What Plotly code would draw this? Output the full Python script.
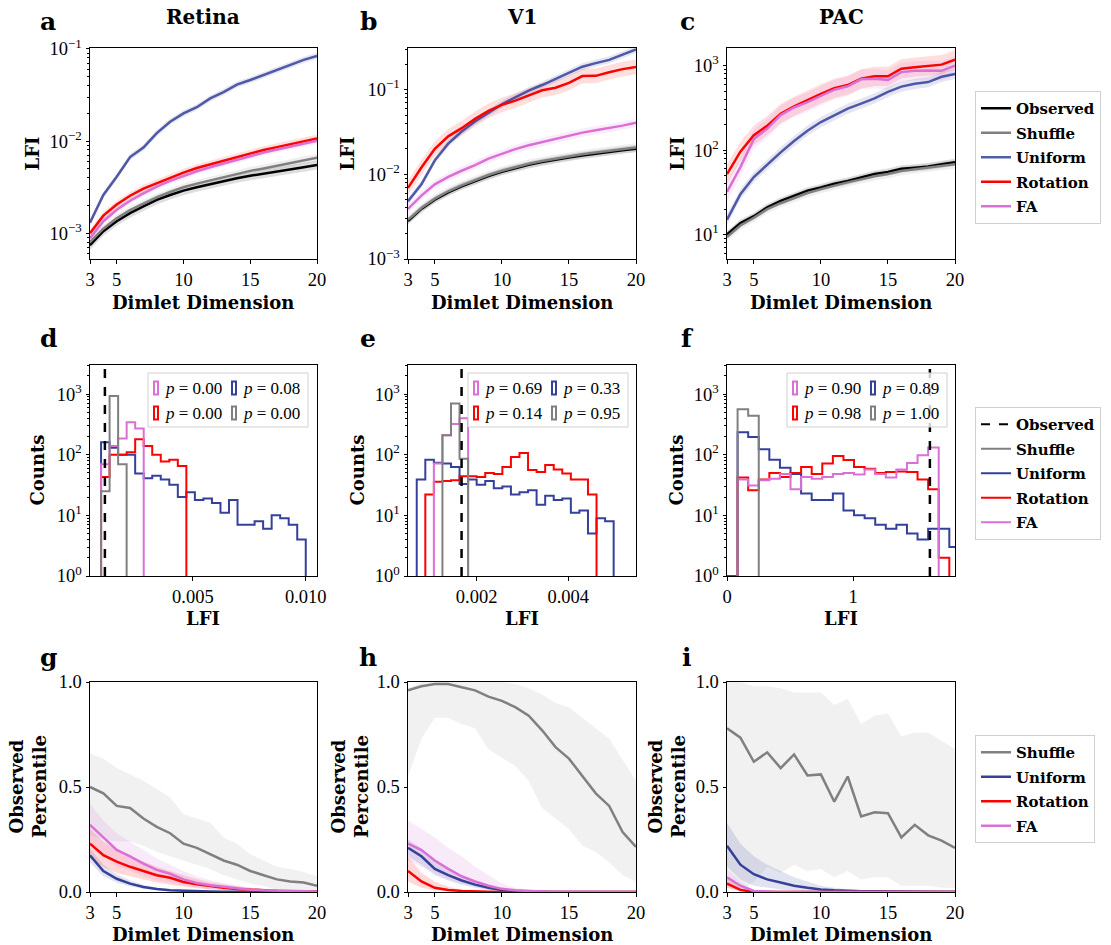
import plotly.graph_objects as go

W, H = 1111, 945


def px(x):
    return x / W


def py(y):
    return 1 - y / H


# ------------------------------------------------------------------ data
DIMS = list(range(3, 21))
SERIES = ["Observed", "Shuffle", "Uniform", "Rotation", "FA"]
COLORS = {"Observed": "#000000", "Shuffle": "#808080", "Uniform": "#35409a",
          "Rotation": "#ff0000", "FA": "#da70d6"}
BAND_RGB = {"Observed": "0,0,0", "Shuffle": "128,128,128", "Uniform": "53,64,154",
            "Rotation": "255,0,0", "FA": "218,112,214"}

# Row 1: LFI vs dimlet dimension (means)
ret_obs = [7.4e-4, 1.05e-3, 1.35e-3, 1.65e-3, 1.95e-3, 2.3e-3, 2.6e-3, 2.9e-3, 3.15e-3,
           3.4e-3, 3.7e-3, 3.95e-3, 4.2e-3, 4.45e-3, 4.7e-3, 4.95e-3, 5.2e-3, 5.5e-3]
ret_shuf = [8.0e-4, 1.12e-3, 1.45e-3, 1.78e-3, 2.1e-3, 2.45e-3, 2.8e-3, 3.15e-3, 3.45e-3,
            3.75e-3, 4.05e-3, 4.4e-3, 4.75e-3, 5.05e-3, 5.4e-3, 5.75e-3, 6.1e-3, 6.6e-3]
ret_unif = [1.3e-3, 2.6e-3, 4.1e-3, 6.7e-3, 8.5e-3, 0.0122, 0.0162, 0.020, 0.0233,
            0.029, 0.034, 0.041, 0.046, 0.052, 0.059, 0.067, 0.076, 0.084]
ret_rot = [1.0e-3, 1.55e-3, 2.05e-3, 2.55e-3, 3.05e-3, 3.5e-3, 4.0e-3, 4.55e-3, 5.1e-3,
           5.6e-3, 6.1e-3, 6.7e-3, 7.4e-3, 8.0e-3, 8.6e-3, 9.3e-3, 9.9e-3, 0.0107]
ret_fa = [8.8e-4, 1.35e-3, 1.8e-3, 2.25e-3, 2.7e-3, 3.2e-3, 3.7e-3, 4.2e-3, 4.7e-3,
          5.2e-3, 5.7e-3, 6.3e-3, 6.9e-3, 7.5e-3, 8.1e-3, 8.7e-3, 9.4e-3, 0.0101]

v1_obs = [2.8e-3, 3.9e-3, 5.0e-3, 6.1e-3, 7.2e-3, 8.3e-3, 9.5e-3, 0.0107, 0.0118,
          0.0129, 0.0139, 0.0149, 0.0158, 0.0167, 0.0176, 0.0184, 0.0192, 0.0200]
v1_shuf = [2.9e-3, 4.0e-3, 5.15e-3, 6.3e-3, 7.4e-3, 8.6e-3, 9.8e-3, 0.0110, 0.0122,
           0.0133, 0.0143, 0.0153, 0.0163, 0.0172, 0.0181, 0.0190, 0.0198, 0.0207]
v1_unif = [4.8e-3, 7.6e-3, 0.0146, 0.023, 0.032, 0.042, 0.053, 0.067, 0.081,
           0.097, 0.113, 0.133, 0.16, 0.186, 0.205, 0.224, 0.258, 0.297]
v1_rot = [6.9e-3, 0.012, 0.020, 0.028, 0.035, 0.045, 0.056, 0.066, 0.074,
          0.085, 0.098, 0.105, 0.120, 0.144, 0.145, 0.160, 0.174, 0.185]
v1_fa = [3.9e-3, 5.6e-3, 7.6e-3, 9.3e-3, 0.011, 0.0128, 0.0153, 0.0175, 0.0198,
         0.022, 0.0240, 0.0262, 0.0285, 0.031, 0.033, 0.035, 0.0375, 0.0405]

pac_obs = [10, 13.7, 16.5, 21, 25, 29, 33, 36, 40, 43, 47, 52, 55, 60, 62, 64, 68, 72]
pac_shuf = [9.3, 12.8, 15.8, 20, 23.5, 27, 31, 34.5, 38, 41.5, 45, 49, 52, 56.5, 59.5, 62, 65, 68]
pac_unif = [15, 30, 48, 68, 94, 128, 170, 215, 257, 310, 355, 410, 490, 565, 610, 640, 740, 800]
pac_rot = [52, 96, 150, 195, 270, 330, 390, 465, 540, 590, 700, 750, 750, 920, 960, 1000, 1030, 1180]
pac_fa = [32, 63, 135, 180, 260, 320, 370, 440, 520, 570, 690, 700, 680, 840, 870, 880, 870, 1000]

# multiplicative half-width of the shaded bands (Observed, Shuffle, Uniform, Rotation, FA)
ret_spread = [1.12, 1.10, 1.08, 1.10, 1.08]
v1_spread = [1.10, 1.12, 1.10, 1.22, 1.12]
pac_spread = [1.10, 1.12, 1.15, 1.30, 1.30]

# Row 2: histograms (bin start, bin width, counts per series, observed value)
d_start, d_width = 0.00093, 0.000378
d_unif = [160, 130, 100, 100, 49, 41, 45, 39, 32, 20, 24, 18, 19, 16, 11, 18, 7, 7, 8, 6, 10, 9, 7, 4]
d_rot = [43, 100, 100, 110, 180, 140, 100, 77, 83, 65]
d_fa = [70, 140, 185, 345, 270]
d_shuf = [25, 930, 70]
d_obs = 0.00110

e_start, e_width = 0.000691, 0.000187
e_unif = [39, 83, 74, 72, 63, 33, 39, 32, 37, 28, 30, 22, 24, 26, 15, 21, 18, 19, 11, 12, 5, 9, 8]
e_rot = [22, 36, 37, 38, 44, 44, 43, 50, 48, 63, 92, 107, 56, 52, 68, 57, 49, 39, 39, 22]
e_fa = [72, 210, 320, 400]
e_shuf = [210, 700, 86]
e_obs = 0.00167

f_start, f_width = 0.0, 0.0839
f_unif = [235, 197, 123, 83, 61, 48, 23, 18, 18, 23, 12, 10, 9, 7, 6, 7, 5, 4, 6, 6, 3]
f_rot = [1, 42, 26, 39, 50, 43, 50, 63, 48, 72, 95, 82, 63, 59, 50, 52, 53, 52, 39, 27, 2]
f_fa = [39, 31, 38, 40, 48, 27, 43, 40, 43, 48, 50, 47, 57, 48, 42, 57, 73, 98, 132]
f_shuf = [560, 440]
f_obs = 1.608

d_first = {"Uniform": 0, "Rotation": 0, "FA": 0, "Shuffle": 0}
e_first = {"Uniform": 0, "Rotation": 1, "FA": 2, "Shuffle": 3}
f_first = {"Uniform": 1, "Rotation": 0, "FA": 1, "Shuffle": 1}

p_d = {"FA": "0.00", "Uniform": "0.08", "Rotation": "0.00", "Shuffle": "0.00"}
p_e = {"FA": "0.69", "Uniform": "0.33", "Rotation": "0.14", "Shuffle": "0.95"}
p_f = {"FA": "0.90", "Uniform": "0.89", "Rotation": "0.98", "Shuffle": "1.00"}

# Row 3: observed percentile (mean, low, high)
g_shuf = [0.50, 0.47, 0.41, 0.40, 0.35, 0.31, 0.28, 0.23, 0.21, 0.18, 0.15, 0.13, 0.10, 0.08, 0.06, 0.05, 0.045, 0.03]
g_shuf_lo = [0.27, 0.25, 0.24, 0.24, 0.22, 0.19, 0.17, 0.15, 0.13, 0.11, 0.08, 0.06, 0.04, 0.03, 0.01, 0.0, 0.0, 0.0]
g_shuf_hi = [0.66, 0.635, 0.59, 0.56, 0.53, 0.49, 0.45, 0.37, 0.35, 0.33, 0.26, 0.23, 0.18, 0.15, 0.12, 0.11, 0.095, 0.075]
g_unif = [0.175, 0.10, 0.063, 0.04, 0.024, 0.014, 0.008, 0.005, 0.003, 0.002, 0.001, 0.001, 0, 0, 0, 0, 0, 0]
g_unif_lo = [0.14, 0.075, 0.045, 0.027, 0.015, 0.008, 0.004, 0.002, 0.001, 0, 0, 0, 0, 0, 0, 0, 0, 0]
g_unif_hi = [0.21, 0.13, 0.085, 0.055, 0.035, 0.022, 0.013, 0.008, 0.005, 0.003, 0.002, 0.001, 0.001, 0, 0, 0, 0, 0]
g_rot = [0.23, 0.175, 0.145, 0.12, 0.10, 0.08, 0.068, 0.048, 0.037, 0.027, 0.02, 0.014, 0.01, 0.007, 0.005, 0.004, 0.003, 0.003]
g_rot_lo = [0.16, 0.12, 0.09, 0.075, 0.06, 0.045, 0.035, 0.025, 0.018, 0.012, 0.008, 0.005, 0.003, 0.002, 0.001, 0.001, 0.0, 0.0]
g_rot_hi = [0.30, 0.24, 0.20, 0.17, 0.145, 0.12, 0.10, 0.08, 0.062, 0.047, 0.036, 0.027, 0.02, 0.015, 0.011, 0.009, 0.007, 0.006]
g_fa = [0.32, 0.26, 0.20, 0.17, 0.135, 0.105, 0.087, 0.06, 0.043, 0.032, 0.024, 0.016, 0.011, 0.008, 0.006, 0.004, 0.003, 0.002]
g_fa_lo = [0.22, 0.17, 0.12, 0.10, 0.075, 0.055, 0.045, 0.03, 0.02, 0.013, 0.009, 0.006, 0.004, 0.003, 0.002, 0.001, 0.001, 0.0]
g_fa_hi = [0.42, 0.34, 0.28, 0.24, 0.20, 0.16, 0.13, 0.10, 0.075, 0.057, 0.043, 0.031, 0.022, 0.016, 0.012, 0.009, 0.007, 0.005]

h_shuf = [0.96, 0.98, 0.99, 0.99, 0.975, 0.96, 0.93, 0.91, 0.88, 0.84, 0.77, 0.69, 0.635, 0.555, 0.47, 0.41, 0.285, 0.215]
h_shuf_lo = [0.55, 0.73, 0.83, 0.83, 0.80, 0.78, 0.68, 0.64, 0.60, 0.53, 0.40, 0.35, 0.30, 0.22, 0.19, 0.14, 0.08, 0.05]
h_shuf_hi = [0.97, 1.0, 1.0, 1.0, 1.0, 1.0, 1.0, 1.0, 0.99, 0.97, 0.94, 0.90, 0.88, 0.83, 0.78, 0.73, 0.63, 0.53]
h_unif = [0.21, 0.17, 0.11, 0.08, 0.055, 0.035, 0.02, 0.01, 0.005, 0.002, 0.001, 0, 0, 0, 0, 0, 0, 0]
h_unif_lo = [0.17, 0.13, 0.08, 0.055, 0.035, 0.02, 0.01, 0.005, 0.002, 0.001, 0, 0, 0, 0, 0, 0, 0, 0]
h_unif_hi = [0.25, 0.21, 0.15, 0.11, 0.075, 0.05, 0.03, 0.016, 0.008, 0.004, 0.002, 0.001, 0, 0, 0, 0, 0, 0]
h_rot = [0.10, 0.05, 0.02, 0.01, 0.005, 0.002, 0.001, 0, 0, 0, 0, 0, 0, 0, 0, 0, 0, 0]
h_rot_lo = [0.05, 0.02, 0.007, 0.003, 0.001, 0, 0, 0, 0, 0, 0, 0, 0, 0, 0, 0, 0, 0]
h_rot_hi = [0.17, 0.09, 0.05, 0.025, 0.012, 0.006, 0.003, 0.001, 0, 0, 0, 0, 0, 0, 0, 0, 0, 0]
h_fa = [0.23, 0.20, 0.15, 0.11, 0.075, 0.05, 0.03, 0.015, 0.008, 0.004, 0.002, 0.001, 0, 0, 0, 0, 0, 0]
h_fa_lo = [0.15, 0.12, 0.09, 0.06, 0.04, 0.025, 0.012, 0.005, 0.002, 0.001, 0, 0, 0, 0, 0, 0, 0, 0]
h_fa_hi = [0.34, 0.30, 0.26, 0.21, 0.17, 0.12, 0.08, 0.04, 0.02, 0.01, 0.005, 0.002, 0.001, 0, 0, 0, 0, 0]

i_shuf = [0.78, 0.735, 0.62, 0.665, 0.59, 0.655, 0.555, 0.56, 0.43, 0.55, 0.36, 0.38, 0.375, 0.26, 0.32, 0.27, 0.245, 0.21]
i_shuf_lo = [0.02, 0.0, 0.05, 0.12, 0.09, 0.13, 0.10, 0.11, 0.07, 0.10, 0.06, 0.07, 0.07, 0.03, 0.03, 0.03, 0.02, 0.02]
i_shuf_hi = [1.0, 1.0, 0.98, 0.98, 0.97, 0.95, 0.95, 0.95, 0.89, 0.92, 0.80, 0.84, 0.85, 0.74, 0.76, 0.76, 0.72, 0.68]
i_unif = [0.22, 0.13, 0.085, 0.06, 0.045, 0.03, 0.02, 0.012, 0.008, 0.005, 0.004, 0.003, 0.002, 0.001, 0.001, 0.001, 0.001, 0.001]
i_unif_lo = [0.12, 0.06, 0.03, 0.02, 0.012, 0.007, 0.004, 0.002, 0.001, 0, 0, 0, 0, 0, 0, 0, 0, 0]
i_unif_hi = [0.33, 0.23, 0.17, 0.13, 0.10, 0.07, 0.05, 0.03, 0.02, 0.013, 0.01, 0.007, 0.005, 0.003, 0.002, 0.002, 0.002, 0.002]
i_rot = [0.04, 0.01, 0.0, 0, 0, 0, 0, 0, 0, 0, 0, 0, 0, 0, 0, 0, 0, 0]
i_rot_lo = [0.02, 0.003, 0, 0, 0, 0, 0, 0, 0, 0, 0, 0, 0, 0, 0, 0, 0, 0]
i_rot_hi = [0.07, 0.025, 0.005, 0, 0, 0, 0, 0, 0, 0, 0, 0, 0, 0, 0, 0, 0, 0]
i_fa = [0.07, 0.03, 0.005, 0.001, 0, 0, 0, 0, 0, 0, 0, 0, 0, 0, 0, 0, 0, 0]
i_fa_lo = [0.04, 0.012, 0.001, 0, 0, 0, 0, 0, 0, 0, 0, 0, 0, 0, 0, 0, 0, 0]
i_fa_hi = [0.11, 0.05, 0.01, 0.002, 0, 0, 0, 0, 0, 0, 0, 0, 0, 0, 0, 0, 0, 0]

TITLES = ["Retina", "V1", "PAC"]
LETTERS = ["a", "b", "c", "d", "e", "f", "g", "h", "i"]

# ------------------------------------------------------------------ style
SERIF = "Liberation Serif"
BOLD = "DejaVu Serif"
TICK_FONT = dict(family=SERIF, size=18.5, color="black")
LABEL_FONT = dict(family=BOLD, size=18, color="black")

COL_X = [(90, 317), (408, 636), (727, 955)]
ROW_Y = [(48, 259), (365, 576), (682, 892)]

fig = go.Figure()
layout = dict(width=W, height=H, margin=dict(l=0, r=0, t=0, b=0, autoexpand=False),
              paper_bgcolor="white", plot_bgcolor="white", showlegend=True)


def sup(n):
    return "10<sup>" + str(n).replace("-", "\u2212") + "</sup>"


def minor_vals(lo, hi):
    vals = []
    for dec in range(lo, hi + 1):
        for m in range(2, 10):
            vals.append(m * 10 ** dec)
    return vals


for r in range(3):
    for c in range(3):
        k = r * 3 + c + 1
        x0, x1 = COL_X[c]
        y0, y1 = ROW_Y[r]
        base = dict(showline=True, mirror=True, linecolor="black", linewidth=1,
                    ticks="outside", ticklen=3.5, tickwidth=1, tickcolor="black",
                    showgrid=False, zeroline=False, tickfont=TICK_FONT, automargin=False)
        layout[f"xaxis{k}"] = dict(base, domain=[px(x0), px(x1)], anchor=f"y{k}")
        layout[f"yaxis{k}"] = dict(base, domain=[py(y1), py(y0)], anchor=f"x{k}")

# row 1 axes
row1_yr = [(-3.28, -0.99, [-3, -2, -1]), (-3.0, -0.51, [-3, -2, -1]), (0.71, 3.21, [1, 2, 3])]
for c in range(3):
    k = c + 1
    lo, hi, decs = row1_yr[c]
    layout[f"xaxis{k}"].update(range=[3, 20], tickmode="array", tickvals=[3, 5, 10, 15, 20],
                               ticktext=["3", "5", "10", "15", "20"])
    layout[f"yaxis{k}"].update(type="log", range=[lo, hi], tickmode="array",
                               tickvals=[10 ** d for d in decs], ticktext=[sup(d) for d in decs],
                               minor=dict(ticks="outside", ticklen=2.5, tickwidth=0.8, tickcolor="black",
                                          tickmode="array", tickvals=minor_vals(decs[0] - 1, decs[-1])))

# row 2 axes
hist_x = [(0.00044, 0.0105, [0.005, 0.010], ["0.005", "0.010"]),
          (0.0005, 0.00548, [0.002, 0.004], ["0.002", "0.004"]),
          (0.0, 1.807, [0, 1], ["0", "1"])]
for c in range(3):
    k = 3 + c + 1
    lo, hi, tv, tt = hist_x[c]
    layout[f"xaxis{k}"].update(range=[lo, hi], tickmode="array", tickvals=tv, ticktext=tt)
    layout[f"yaxis{k}"].update(type="log", range=[0, 3.48], tickmode="array",
                               tickvals=[1, 10, 100, 1000], ticktext=[sup(d) for d in range(4)],
                               minor=dict(ticks="outside", ticklen=2.5, tickwidth=0.8, tickcolor="black",
                                          tickmode="array", tickvals=minor_vals(0, 3)))

# row 3 axes
for c in range(3):
    k = 6 + c + 1
    layout[f"xaxis{k}"].update(range=[3, 20], tickmode="array", tickvals=[3, 5, 10, 15, 20],
                               ticktext=["3", "5", "10", "15", "20"])
    layout[f"yaxis{k}"].update(range=[0, 1], tickmode="array", tickvals=[0, 0.5, 1.0],
                               ticktext=["0.0", "0.5", "1.0"])


def band(k, lo, hi, rgb, alpha):
    fig.add_trace(go.Scatter(x=DIMS, y=lo, xaxis=f"x{k}", yaxis=f"y{k}", mode="lines",
                             line=dict(width=0), showlegend=False, hoverinfo="skip"))
    fig.add_trace(go.Scatter(x=DIMS, y=hi, xaxis=f"x{k}", yaxis=f"y{k}", mode="lines",
                             line=dict(width=0), fill="tonexty",
                             fillcolor=f"rgba({rgb},{alpha})", showlegend=False, hoverinfo="skip"))


# ------------------------------------------------------------------ row 1
row1 = [
    {"Observed": ret_obs, "Shuffle": ret_shuf, "Uniform": ret_unif, "Rotation": ret_rot, "FA": ret_fa},
    {"Observed": v1_obs, "Shuffle": v1_shuf, "Uniform": v1_unif, "Rotation": v1_rot, "FA": v1_fa},
    {"Observed": pac_obs, "Shuffle": pac_shuf, "Uniform": pac_unif, "Rotation": pac_rot, "FA": pac_fa},
]
spreads = [ret_spread, v1_spread, pac_spread]
for c in range(3):
    k = c + 1
    for j, s in enumerate(SERIES):
        vals = row1[c][s]
        sp = spreads[c][j]
        band(k, [v / sp for v in vals], [v * sp for v in vals], BAND_RGB[s], 0.13)
    for s in SERIES:
        fig.add_trace(go.Scatter(x=DIMS, y=row1[c][s], xaxis=f"x{k}", yaxis=f"y{k}", mode="lines",
                                 line=dict(color=COLORS[s], width=2.5),
                                 opacity=0.85 if s == "Uniform" else 1.0,
                                 name=f"<b>{s}</b>", legend="legend", legendgroup="r1" + s,
                                 showlegend=(c == 2)))

# ------------------------------------------------------------------ row 2
hists = [
    (d_start, d_width, d_first, {"Uniform": d_unif, "Rotation": d_rot, "FA": d_fa, "Shuffle": d_shuf}, d_obs),
    (e_start, e_width, e_first, {"Uniform": e_unif, "Rotation": e_rot, "FA": e_fa, "Shuffle": e_shuf}, e_obs),
    (f_start, f_width, f_first, {"Uniform": f_unif, "Rotation": f_rot, "FA": f_fa, "Shuffle": f_shuf}, f_obs),
]
rank = {"Observed": 1, "Shuffle": 2, "Uniform": 3, "Rotation": 4, "FA": 5}
shapes = []
for c in range(3):
    k = 3 + c + 1
    start, width, first, counts_map, obs = hists[c]
    for s in ["Uniform", "Rotation", "FA", "Shuffle"]:
        counts = counts_map[s]
        n = len(counts)
        edges = [start + (first[s] + i) * width for i in range(n + 1)]
        xs = [edges[0]] + edges[:n] + [edges[n], edges[n]]
        ys = [1] + list(counts) + [counts[-1], 1]
        fig.add_trace(go.Scatter(x=xs, y=ys, xaxis=f"x{k}", yaxis=f"y{k}", mode="lines",
                                 line=dict(color=COLORS[s], width=2, shape="hv"),
                                 name=f"<b>{s}</b>", legend="legend2", legendrank=rank[s],
                                 legendgroup="r2" + s, showlegend=(c == 2)))
    shapes.append(dict(type="line", xref=f"x{k}", yref=f"y{k} domain", x0=obs, x1=obs, y0=0, y1=1,
                       line=dict(color="black", width=2.5, dash="dash"), layer="above"))

fig.add_trace(go.Scatter(x=[None], y=[None], xaxis="x6", yaxis="y6", mode="lines",
                         line=dict(color="black", width=2, dash="dash"),
                         name="<b>Observed</b>", legend="legend2", legendrank=1,
                         legendgroup="r2Observed"))

# in-panel p-value legends
p_maps = [p_d, p_e, p_f]
box_left = [148, 468, 787]
annotations = []
grid = [("FA", 0, 0), ("Uniform", 1, 0), ("Rotation", 0, 1), ("Shuffle", 1, 1)]
for c in range(3):
    bl = box_left[c]
    shapes.append(dict(type="rect", xref="paper", yref="paper", x0=px(bl), x1=px(bl + 160),
                       y0=py(427), y1=py(373), line=dict(color="#d0d0d0", width=1),
                       fillcolor="rgba(255,255,255,0.8)", layer="above"))
    for s, col, row in grid:
        xl = bl + 6 + col * 78
        yc = 388 + row * 25
        shapes.append(dict(type="rect", xref="paper", yref="paper", x0=px(xl), x1=px(xl + 4),
                           y0=py(yc + 6.5), y1=py(yc - 6.5),
                           line=dict(color=COLORS[s], width=2), fillcolor="rgba(0,0,0,0)", layer="above"))
        annotations.append(dict(xref="paper", yref="paper", x=px(xl + 9), y=py(yc), xanchor="left",
                                yanchor="middle", showarrow=False,
                                text=f"<i>p</i> = {p_maps[c][s]}",
                                font=dict(family=SERIF, size=17, color="black")))

# ------------------------------------------------------------------ row 3
row3 = [
    {"Shuffle": (g_shuf, g_shuf_lo, g_shuf_hi), "Uniform": (g_unif, g_unif_lo, g_unif_hi),
     "Rotation": (g_rot, g_rot_lo, g_rot_hi), "FA": (g_fa, g_fa_lo, g_fa_hi)},
    {"Shuffle": (h_shuf, h_shuf_lo, h_shuf_hi), "Uniform": (h_unif, h_unif_lo, h_unif_hi),
     "Rotation": (h_rot, h_rot_lo, h_rot_hi), "FA": (h_fa, h_fa_lo, h_fa_hi)},
    {"Shuffle": (i_shuf, i_shuf_lo, i_shuf_hi), "Uniform": (i_unif, i_unif_lo, i_unif_hi),
     "Rotation": (i_rot, i_rot_lo, i_rot_hi), "FA": (i_fa, i_fa_lo, i_fa_hi)},
]
for c in range(3):
    k = 6 + c + 1
    for s in ["Shuffle", "Uniform", "Rotation", "FA"]:
        mean, lo, hi = row3[c][s]
        band(k, lo, hi, BAND_RGB[s], 0.11 if s == "Shuffle" else 0.15)
    for s in ["Shuffle", "Uniform", "Rotation", "FA"]:
        mean = row3[c][s][0]
        fig.add_trace(go.Scatter(x=DIMS, y=mean, xaxis=f"x{k}", yaxis=f"y{k}", mode="lines",
                                 line=dict(color=COLORS[s], width=2.5),
                                 name=f"<b>{s}</b>", legend="legend3", legendgroup="r3" + s,
                                 showlegend=(c == 2)))

# ------------------------------------------------------------------ text
col_centers = [203, 522, 841]
for c, t in enumerate(TITLES):
    annotations.append(dict(xref="paper", yref="paper", x=px(col_centers[c]), y=py(17), showarrow=False,
                            text=f"<b>{t}</b>", font=dict(family=BOLD, size=20, color="black"),
                            xanchor="center", yanchor="middle"))
letter_x = [48, 368, 687]
letter_y = [22, 338, 657]
for r in range(3):
    for c in range(3):
        annotations.append(dict(xref="paper", yref="paper", x=px(letter_x[c]), y=py(letter_y[r]),
                                showarrow=False, text=f"<b>{LETTERS[r * 3 + c]}</b>",
                                font=dict(family=BOLD, size=25, color="black"),
                                xanchor="center", yanchor="middle"))

xlabel_y = [302, 618, 934]
xlabels = ["Dimlet Dimension", "LFI", "Dimlet Dimension"]
ylabels = ["<b>LFI</b>", "<b>Counts</b>", "<b>Observed</b><br><b>Percentile</b>"]
ylabel_x = [[32, 347, 677], [37, 357, 676], [28, 350, 667]]
for r in range(3):
    yc = (ROW_Y[r][0] + ROW_Y[r][1]) / 2
    for c in range(3):
        annotations.append(dict(xref="paper", yref="paper", x=px(col_centers[c]), y=py(xlabel_y[r]),
                                showarrow=False, text=f"<b>{xlabels[r]}</b>", font=LABEL_FONT,
                                xanchor="center", yanchor="middle"))
        annotations.append(dict(xref="paper", yref="paper", x=px(ylabel_x[r][c]), y=py(yc),
                                showarrow=False, text=ylabels[r],
                                font=LABEL_FONT, textangle=-90, xanchor="center", yanchor="middle"))

leg_common = dict(bgcolor="white", bordercolor="#d0d0d0", borderwidth=1,
                  font=dict(family=BOLD, size=15, color="black"), tracegroupgap=2,
                  xanchor="left", yanchor="top", x=px(975), traceorder="grouped")
layout["legend"] = dict(leg_common, y=py(91))
layout["legend2"] = dict(leg_common, y=py(407))
layout["legend3"] = dict(leg_common, y=py(735))
layout["shapes"] = shapes
layout["annotations"] = annotations

fig.update_layout(**layout)
fig.write_html("out.html")
